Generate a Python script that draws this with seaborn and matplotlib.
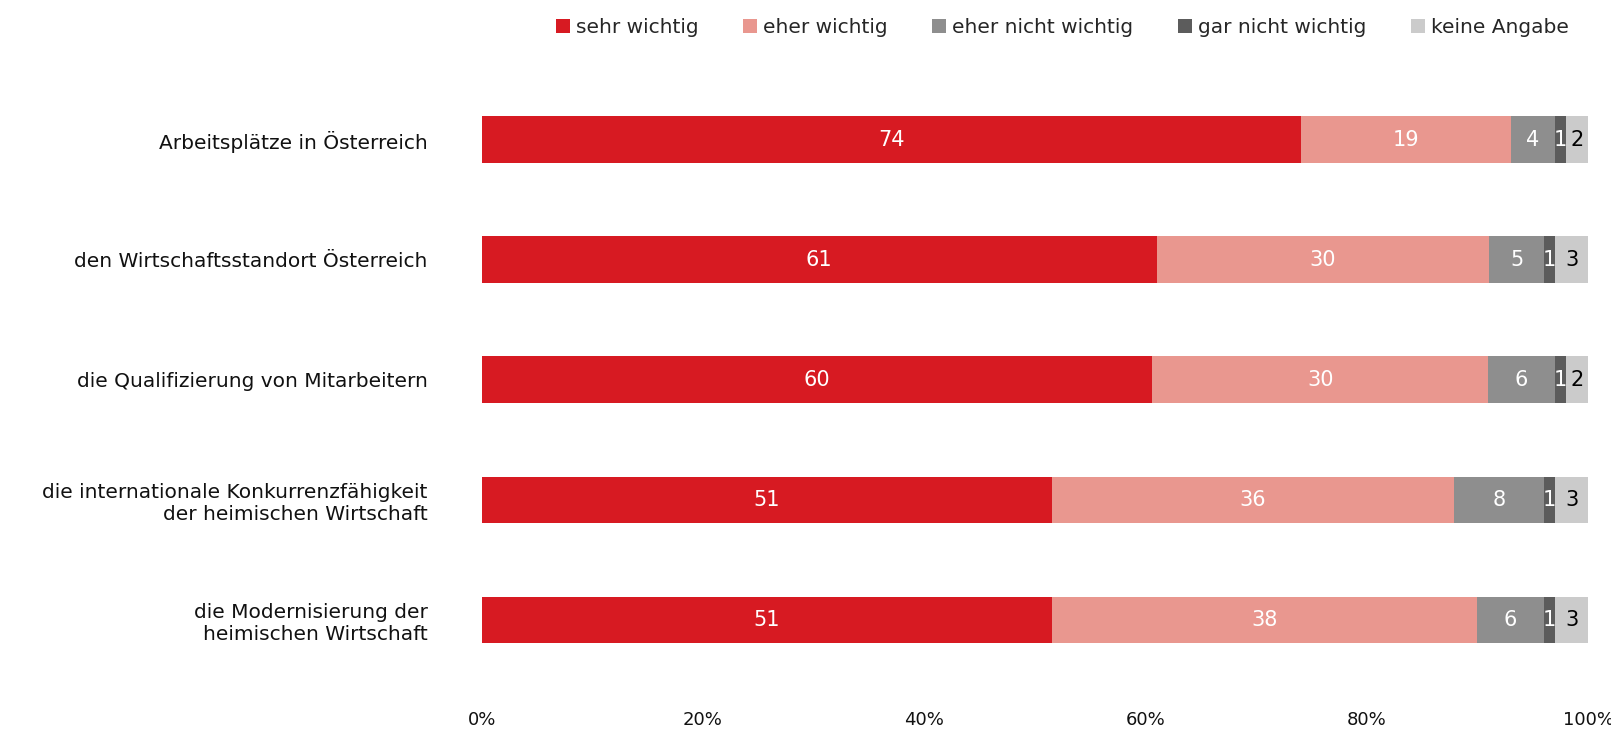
import numpy as np
import pandas as pd
import matplotlib
matplotlib.use("Agg")
import matplotlib.pyplot as plt
import seaborn as sns
from matplotlib.patches import Patch

categories = [
    "Arbeitsplätze in Österreich",
    "den Wirtschaftsstandort Österreich",
    "die Qualifizierung von Mitarbeitern",
    "die internationale Konkurrenzfähigkeit\nder heimischen Wirtschaft",
    "die Modernisierung der\nheimischen Wirtschaft",
]
series = ["sehr wichtig", "eher wichtig", "eher nicht wichtig", "gar nicht wichtig", "keine Angabe"]
sehr_wichtig = [74, 61, 60, 51, 51]
eher_wichtig = [19, 30, 30, 36, 38]
eher_nicht_wichtig = [4, 5, 6, 8, 6]
gar_nicht_wichtig = [1, 1, 1, 1, 1]
keine_angabe = [2, 3, 2, 3, 3]
tick_values = [0, 20, 40, 60, 80, 100]

colors = ["#D71A22", "#E9978F", "#8E8E8E", "#5C5C5C", "#CBCBCB"]
text_colors = ["white", "white", "white", "white", "black"]

sns.set_theme(style="white")
plt.rcParams["font.family"] = ["DejaVu Sans"]

values = np.array([sehr_wichtig, eher_wichtig, eher_nicht_wichtig,
                   gar_nicht_wichtig, keine_angabe], dtype=float)
# scale each row to 100 %
shares = values / values.sum(axis=0) * 100
cum = np.cumsum(shares, axis=0)

fig = plt.figure(figsize=(16.11, 7.32), dpi=100)
ax = fig.add_axes([0.299, 0.071, 0.687, 0.820])

# stacked bars: draw cumulative totals from the outermost segment inward
for i in reversed(range(len(series))):
    df = pd.DataFrame({"cat": categories, "val": cum[i]})
    sns.barplot(data=df, y="cat", x="val", color=colors[i], width=0.39,
                saturation=1, ax=ax, orient="h", linewidth=0)

for i in range(len(series)):
    starts = cum[i] - shares[i]
    for j in range(len(categories)):
        ax.text(starts[j] + shares[i][j] / 2, j, f"{int(values[i][j])}",
                ha="center", va="center", color=text_colors[i], fontsize=15)

ax.set_xlim(0, 100)
ax.set_ylim(len(categories) - 0.5, -0.5)
ax.set_xlabel("")
ax.set_ylabel("")
ax.set_xticks(tick_values)
ax.set_xticklabels([f"{v}%" for v in tick_values], fontsize=13, color="#111111")
ax.tick_params(axis="x", length=0, pad=22)
ax.tick_params(axis="y", length=0, pad=39, labelsize=14.5, labelcolor="#111111")
for lbl in ax.get_yticklabels():
    lbl.set_multialignment("right")
for s in ax.spines.values():
    s.set_visible(False)

handles = [Patch(facecolor=c, edgecolor="none") for c in colors]
fig.legend(handles, series, loc="upper right", bbox_to_anchor=(0.985, 1.0),
           ncol=5, frameon=False, fontsize=14.5, handlelength=0.7, handleheight=0.7,
           handletextpad=0.3, columnspacing=2.2)

fig.savefig("out.png", dpi=100, facecolor="white")
